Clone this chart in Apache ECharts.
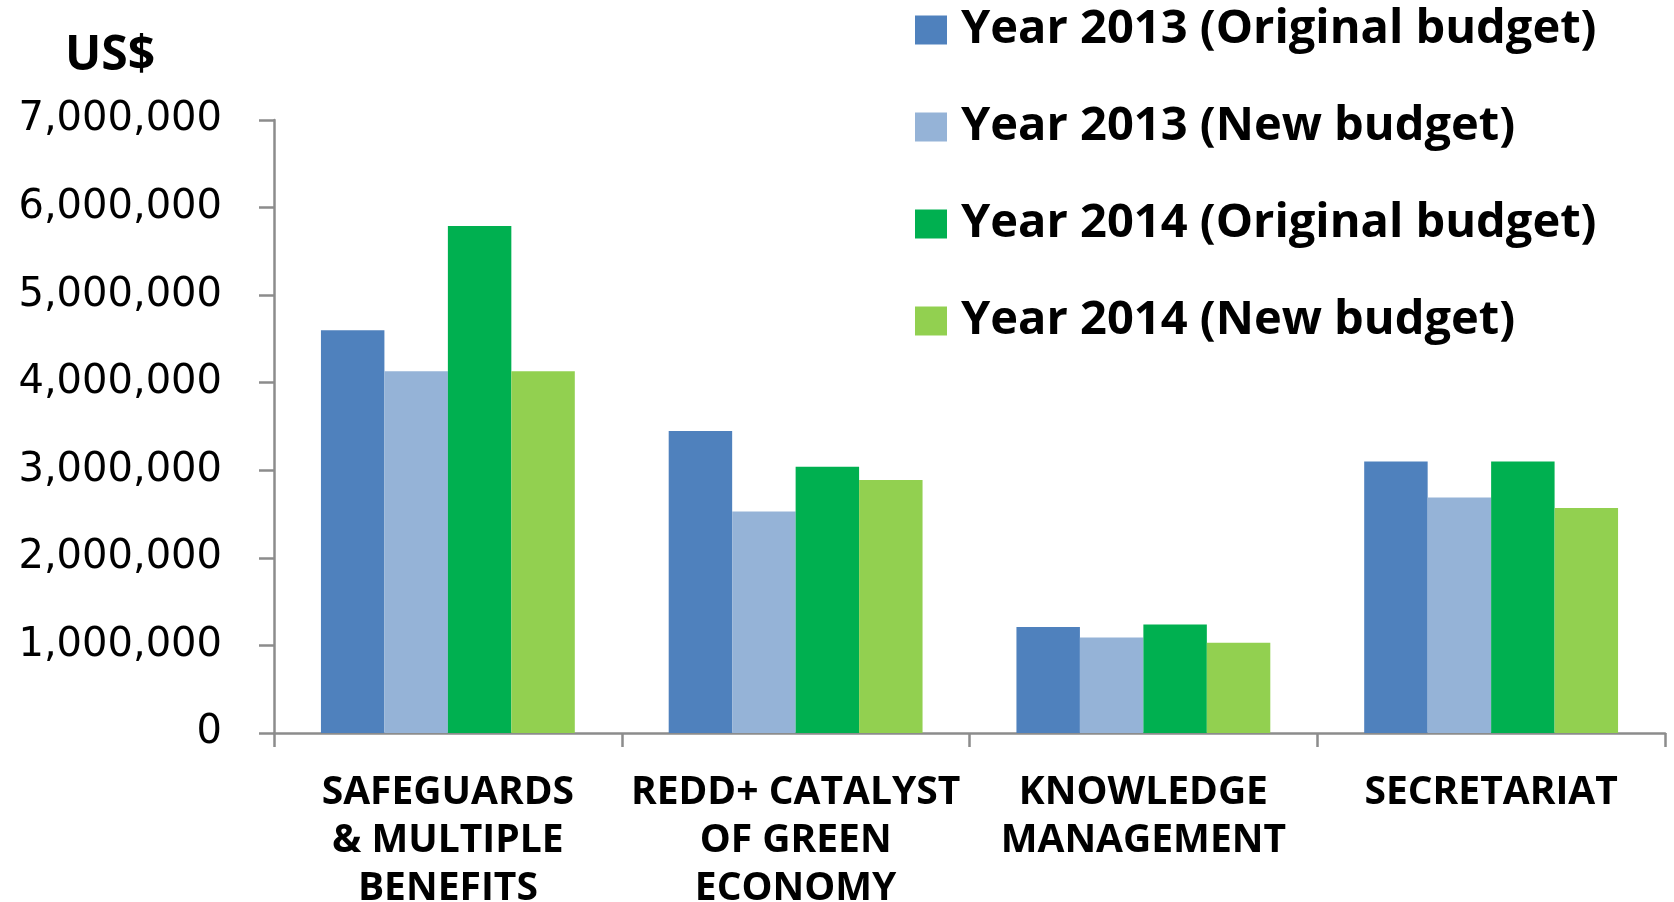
<!DOCTYPE html>
<html>
<head>
<meta charset="utf-8">
<title>Budget by component</title>
<script src="https://cdn.jsdelivr.net/npm/echarts@6/dist/echarts.min.js"></script>
<style>
  html, body { margin: 0; padding: 0; background: #ffffff; }
  #chart { width: 1674px; height: 902px; }
</style>
</head>
<body>
<div id="chart"></div>
<script>
// Budget components (x axis)
const categories = [
  'SAFEGUARDS\n& MULTIPLE\nBENEFITS',
  'REDD+ CATALYST\nOF GREEN\nECONOMY',
  'KNOWLEDGE\nMANAGEMENT',
  'SECRETARIAT'
];

// Budget amounts in US$
const year2013Original = [4600000, 3450000, 1210000, 3100000];
const year2013New      = [4130000, 2530000, 1090000, 2690000];
const year2014Original = [5790000, 3040000, 1240000, 3100000];
const year2014New      = [4130000, 2890000, 1030000, 2570000];

const seriesNames = [
  'Year 2013 (Original budget)',
  'Year 2013 (New budget)',
  'Year 2014 (Original budget)',
  'Year 2014 (New budget)'
];

// Value axis ticks
const yMin = 0;
const yMax = 7000000;
const yStep = 1000000;

const palette = ['#4F81BD', '#95B3D7', '#00B050', '#92D050'];
const axisGrey = '#8C8C8C';

const chart = echarts.init(document.getElementById('chart'), null, { renderer: 'canvas' });

function barSeries(name, data, color) {
  return {
    name: name,
    type: 'bar',
    data: data,
    barGap: '0%',
    barCategoryGap: '27%',
    itemStyle: { color: color },
    emphasis: { disabled: true }
  };
}

chart.setOption({
  animation: false,
  backgroundColor: '#ffffff',
  title: {
    text: 'US$',
    left: 60,
    top: 27,
    textStyle: {
      fontFamily: 'Open Sans',
      fontWeight: 'bold',
      fontSize: 48,
      color: '#000000'
    }
  },
  legend: {
    orient: 'vertical',
    left: 910,
    top: -1,
    itemWidth: 32,
    itemHeight: 29,
    itemGap: 45,
    icon: 'rect',
    selectedMode: false,
    textStyle: {
      fontFamily: 'Open Sans',
      fontWeight: 'bold',
      fontSize: 47,
      lineHeight: 52,
      color: '#000000',
      padding: [0, 0, 0, 9]
    },
    data: seriesNames
  },
  grid: {
    left: 274,
    right: 9,
    top: 120,
    bottom: 169,
    containLabel: false,
    outerBoundsMode: 'none'
  },
  xAxis: {
    type: 'category',
    data: categories,
    boundaryGap: true,
    axisLine: { show: true, lineStyle: { color: axisGrey, width: 2.5 } },
    axisTick: { show: true, length: 14, lineStyle: { color: axisGrey, width: 2.5 } },
    axisLabel: {
      interval: 0,
      margin: 36,
      fontFamily: 'Open Sans',
      fontWeight: 'bold',
      fontSize: 39,
      lineHeight: 48,
      color: '#000000',
      align: 'center'
    },
    splitLine: { show: false }
  },
  yAxis: {
    type: 'value',
    min: yMin,
    max: yMax,
    interval: yStep,
    axisLine: { show: true, lineStyle: { color: axisGrey, width: 2.5 } },
    axisTick: { show: true, length: 15, lineStyle: { color: axisGrey, width: 2.5 } },
    axisLabel: {
      margin: 52,
      fontFamily: 'DejaVu Sans',
      fontSize: 40,
      color: '#000000',
      formatter: function (v) { return v.toLocaleString('en-US'); }
    },
    splitLine: { show: false }
  },
  series: [
    barSeries(seriesNames[0], year2013Original, palette[0]),
    barSeries(seriesNames[1], year2013New, palette[1]),
    barSeries(seriesNames[2], year2014Original, palette[2]),
    barSeries(seriesNames[3], year2014New, palette[3])
  ]
});
</script>
</body>
</html>
